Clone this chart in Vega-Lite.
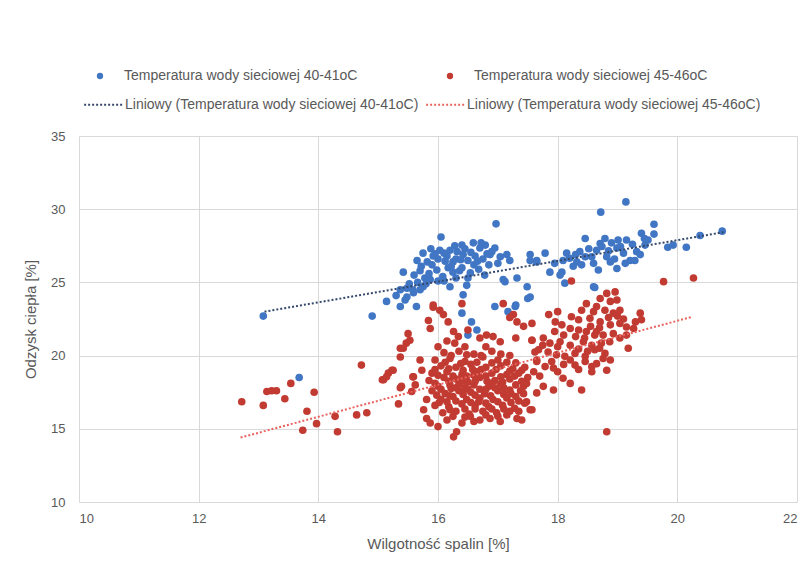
{
  "$schema": "https://vega.github.io/schema/vega-lite/v6.json",
  "autosize": "none",
  "width": 718,
  "height": 366,
  "padding": {"left": 79, "top": 136, "right": 15, "bottom": 63},
  "background": "white",
  "config": {
    "font": "Liberation Sans",
    "view": {"stroke": null},
    "axis": {"gridColor": "#d9d9d9", "gridWidth": 1, "domain": false, "ticks": false, "labelColor": "#595959", "titleColor": "#595959", "labelFontSize": 13, "titleFontSize": 15, "titleFontWeight": "normal", "labelFont": "Liberation Sans", "titleFont": "Liberation Sans"},
    "legend": {"labelColor": "#595959", "labelFontSize": 14, "labelFont": "Liberation Sans", "labelLimit": 500}
  },
  "datasets": {
    "pts": [
      {"g":"40-41","x":13.08,"y":22.7},{"g":"40-41","x":13.68,"y":18.5},{"g":"40-41","x":14.9,"y":22.7},{"g":"40-41","x":15.14,"y":23.7},{"g":"40-41","x":15.37,"y":23.35},{"g":"40-41","x":15.48,"y":24.0},{"g":"40-41","x":15.59,"y":24.3},{"g":"40-41","x":15.7,"y":24.5},{"g":"40-41","x":15.64,"y":23.35},{"g":"40-41","x":15.75,"y":24.7},{"g":"40-41","x":15.87,"y":25.2},{"g":"40-41","x":15.42,"y":25.7},{"g":"40-41","x":15.37,"y":24.5},{"g":"40-41","x":15.48,"y":24.6},{"g":"40-41","x":15.58,"y":24.5},{"g":"40-41","x":15.8,"y":24.9},{"g":"40-41","x":15.52,"y":24.9},{"g":"40-41","x":15.66,"y":25.0},{"g":"40-41","x":15.3,"y":24.1},{"g":"40-41","x":15.45,"y":23.8},
      {"g":"40-41","x":15.75,"y":27.0},{"g":"40-41","x":15.65,"y":26.5},{"g":"40-41","x":15.82,"y":26.4},{"g":"40-41","x":15.92,"y":26.8},{"g":"40-41","x":16.03,"y":27.2},{"g":"40-41","x":16.15,"y":26.8},{"g":"40-41","x":16.25,"y":26.4},{"g":"40-41","x":16.32,"y":27.1},{"g":"40-41","x":16.42,"y":26.9},{"g":"40-41","x":16.5,"y":26.5},{"g":"40-41","x":16.59,"y":27.7},{"g":"40-41","x":16.7,"y":27.35},{"g":"40-41","x":16.79,"y":27.55},{"g":"40-41","x":16.87,"y":26.9},{"g":"40-41","x":16.95,"y":27.35},{"g":"40-41","x":17.04,"y":26.75},{"g":"40-41","x":17.15,"y":26.9},{"g":"40-41","x":17.2,"y":26.5},{"g":"40-41","x":17.54,"y":26.9},{"g":"40-41","x":17.65,"y":26.5},
      {"g":"40-41","x":16.17,"y":26.0},{"g":"40-41","x":16.4,"y":26.0},{"g":"40-41","x":16.54,"y":25.65},{"g":"40-41","x":15.98,"y":25.85},{"g":"40-41","x":16.08,"y":25.4},{"g":"40-41","x":15.78,"y":25.3},{"g":"40-41","x":16.2,"y":24.7},{"g":"40-41","x":16.48,"y":24.8},{"g":"40-41","x":17.12,"y":25.05},{"g":"40-41","x":17.32,"y":25.3},{"g":"40-41","x":17.49,"y":24.7},{"g":"40-41","x":17.54,"y":24.0},{"g":"40-41","x":16.05,"y":28.1},{"g":"40-41","x":16.97,"y":29.0},{"g":"40-41","x":16.42,"y":24.15},{"g":"40-41","x":16.4,"y":22.9},{"g":"40-41","x":16.56,"y":22.3},{"g":"40-41","x":16.65,"y":21.75},{"g":"40-41","x":16.5,"y":21.4},{"g":"40-41","x":16.95,"y":23.35},
      {"g":"40-41","x":17.17,"y":23.0},{"g":"40-41","x":17.3,"y":23.45},{"g":"40-41","x":17.5,"y":23.9},{"g":"40-41","x":17.09,"y":25.2},{"g":"40-41","x":17.29,"y":23.35},{"g":"40-41","x":17.87,"y":25.7},{"g":"40-41","x":18.04,"y":25.5},{"g":"40-41","x":18.12,"y":24.95},{"g":"40-41","x":18.6,"y":24.7},{"g":"40-41","x":15.9,"y":26.2},{"g":"40-41","x":16.0,"y":26.6},{"g":"40-41","x":16.1,"y":27.0},{"g":"40-41","x":16.22,"y":26.1},{"g":"40-41","x":16.3,"y":26.6},{"g":"40-41","x":16.36,"y":25.8},{"g":"40-41","x":16.45,"y":27.3},{"g":"40-41","x":16.6,"y":26.2},{"g":"40-41","x":16.62,"y":26.8},{"g":"40-41","x":16.75,"y":26.6},{"g":"40-41","x":16.85,"y":26.2},
      {"g":"40-41","x":16.9,"y":27.1},{"g":"40-41","x":17.0,"y":26.3},{"g":"40-41","x":16.28,"y":27.5},{"g":"40-41","x":15.88,"y":27.3},{"g":"40-41","x":16.68,"y":25.9},{"g":"40-41","x":16.1,"y":25.1},{"g":"40-41","x":16.3,"y":25.3},
      {"g":"40-41","x":15.95,"y":26.95},{"g":"40-41","x":16.12,"y":26.45},{"g":"40-41","x":16.2,"y":27.2},{"g":"40-41","x":16.38,"y":26.55},{"g":"40-41","x":16.55,"y":27.05},{"g":"40-41","x":16.66,"y":26.45},{"g":"40-41","x":16.82,"y":26.95},{"g":"40-41","x":16.72,"y":27.7},{"g":"40-41","x":16.4,"y":27.55},{"g":"40-41","x":15.7,"y":25.8},{"g":"40-41","x":15.6,"y":25.5},{"g":"40-41","x":15.85,"y":25.6},{"g":"40-41","x":16.0,"y":25.1},{"g":"40-41","x":16.25,"y":25.7},{"g":"40-41","x":16.5,"y":25.3},{"g":"40-41","x":16.78,"y":25.5},{"g":"40-41","x":15.72,"y":26.1},
      {"g":"40-41","x":17.54,"y":26.5},{"g":"40-41","x":17.65,"y":26.4},{"g":"40-41","x":17.79,"y":27.0},{"g":"40-41","x":18.09,"y":26.5},{"g":"40-41","x":18.2,"y":26.65},{"g":"40-41","x":18.32,"y":26.4},{"g":"40-41","x":18.37,"y":27.1},{"g":"40-41","x":18.4,"y":26.2},{"g":"40-41","x":18.46,"y":28.0},{"g":"40-41","x":18.57,"y":26.75},{"g":"40-41","x":18.65,"y":27.2},{"g":"40-41","x":18.74,"y":27.45},{"g":"40-41","x":18.79,"y":28.0},{"g":"40-41","x":18.82,"y":26.75},{"g":"40-41","x":18.9,"y":27.7},{"g":"40-41","x":18.99,"y":27.35},{"g":"40-41","x":19.01,"y":27.9},{"g":"40-41","x":19.1,"y":27.0},{"g":"40-41","x":19.15,"y":27.9},{"g":"40-41","x":19.21,"y":26.5},
      {"g":"40-41","x":19.32,"y":27.1},{"g":"40-41","x":19.4,"y":28.35},{"g":"40-41","x":19.46,"y":27.55},{"g":"40-41","x":19.51,"y":27.9},{"g":"40-41","x":18.68,"y":25.85},{"g":"40-41","x":18.99,"y":25.95},{"g":"40-41","x":18.07,"y":25.7},{"g":"40-41","x":18.62,"y":24.65},{"g":"40-41","x":18.26,"y":26.1},{"g":"40-41","x":18.88,"y":26.4},{"g":"40-41","x":19.13,"y":26.3},{"g":"40-41","x":19.29,"y":26.5},{"g":"40-41","x":18.46,"y":26.75},{"g":"40-41","x":18.71,"y":27.65},{"g":"40-41","x":19.14,"y":30.5},{"g":"40-41","x":18.72,"y":29.8},{"g":"40-41","x":19.61,"y":28.97},{"g":"40-41","x":19.61,"y":28.3},{"g":"40-41","x":20.38,"y":28.2},{"g":"40-41","x":20.75,"y":28.5},
      {"g":"40-41","x":20.15,"y":27.4},{"g":"40-41","x":19.84,"y":27.4},{"g":"40-41","x":19.93,"y":27.55},
      {"g":"40-41","x":18.3,"y":26.9},{"g":"40-41","x":18.52,"y":27.3},{"g":"40-41","x":18.6,"y":26.3},{"g":"40-41","x":18.85,"y":27.15},{"g":"40-41","x":18.95,"y":26.6},{"g":"40-41","x":19.05,"y":27.45},{"g":"40-41","x":19.25,"y":27.6},{"g":"40-41","x":19.38,"y":26.9},{"g":"40-41","x":19.45,"y":28.0},{"g":"40-41","x":18.15,"y":27.0},{"g":"40-41","x":17.95,"y":26.3},
      {"g":"45-46","x":12.72,"y":16.85},{"g":"45-46","x":13.08,"y":16.6},{"g":"45-46","x":13.14,"y":17.55},{"g":"45-46","x":13.22,"y":17.6},{"g":"45-46","x":13.3,"y":17.6},{"g":"45-46","x":13.44,"y":17.05},{"g":"45-46","x":13.54,"y":18.1},{"g":"45-46","x":13.81,"y":16.2},{"g":"45-46","x":13.93,"y":17.5},{"g":"45-46","x":13.74,"y":14.9},{"g":"45-46","x":13.97,"y":15.35},{"g":"45-46","x":14.28,"y":15.85},{"g":"45-46","x":14.32,"y":14.8},{"g":"45-46","x":14.64,"y":15.95},{"g":"45-46","x":14.81,"y":16.1},{"g":"45-46","x":14.72,"y":19.35},{"g":"45-46","x":15.07,"y":18.35},{"g":"45-46","x":15.17,"y":18.8},{"g":"45-46","x":15.25,"y":19.0},{"g":"45-46","x":15.37,"y":17.8},
      {"g":"45-46","x":15.34,"y":16.7},{"g":"45-46","x":15.37,"y":20.5},{"g":"45-46","x":15.5,"y":21.5},{"g":"45-46","x":15.53,"y":21.05},{"g":"45-46","x":15.58,"y":18.55},{"g":"45-46","x":15.56,"y":17.55},{"g":"45-46","x":15.39,"y":17.9},{"g":"45-46","x":15.92,"y":23.45},{"g":"45-46","x":16.03,"y":23.1},{"g":"45-46","x":16.09,"y":22.8},{"g":"45-46","x":16.17,"y":22.3},{"g":"45-46","x":15.84,"y":22.4},{"g":"45-46","x":15.87,"y":21.85},{"g":"45-46","x":16.4,"y":23.55},{"g":"45-46","x":17.09,"y":23.55},{"g":"45-46","x":17.26,"y":22.8},{"g":"45-46","x":17.32,"y":22.3},{"g":"45-46","x":17.43,"y":22.0},{"g":"45-46","x":17.57,"y":22.2},{"g":"45-46","x":15.47,"y":20.85},
      {"g":"45-46","x":15.42,"y":20.5},{"g":"45-46","x":15.37,"y":19.9},{"g":"45-46","x":15.23,"y":19.0},{"g":"45-46","x":15.14,"y":18.55},{"g":"45-46","x":15.09,"y":18.35},{"g":"45-46","x":15.7,"y":19.7},{"g":"45-46","x":15.73,"y":19.0},{"g":"45-46","x":15.59,"y":18.55},{"g":"45-46","x":15.62,"y":18.0},{"g":"45-46","x":16.26,"y":21.65},{"g":"45-46","x":16.34,"y":21.3},{"g":"45-46","x":16.28,"y":20.85},{"g":"45-46","x":16.7,"y":21.2},{"g":"45-46","x":16.81,"y":21.4},{"g":"45-46","x":16.92,"y":21.3},{"g":"45-46","x":17.04,"y":20.95},{"g":"45-46","x":16.5,"y":21.75},{"g":"45-46","x":17.57,"y":21.05},{"g":"45-46","x":17.62,"y":20.25},{"g":"45-46","x":17.65,"y":19.6},
      {"g":"45-46","x":15.81,"y":17.0},{"g":"45-46","x":15.76,"y":16.3},{"g":"45-46","x":15.81,"y":15.7},{"g":"45-46","x":15.87,"y":15.4},{"g":"45-46","x":16.0,"y":15.15},{"g":"45-46","x":16.31,"y":14.8},{"g":"45-46","x":16.26,"y":14.45},{"g":"45-46","x":16.54,"y":15.85},{"g":"45-46","x":16.7,"y":15.6},{"g":"45-46","x":16.87,"y":15.7},{"g":"45-46","x":17.04,"y":15.5},{"g":"45-46","x":17.15,"y":15.95},{"g":"45-46","x":17.32,"y":15.7},{"g":"45-46","x":17.48,"y":16.85},{"g":"45-46","x":17.54,"y":16.3},{"g":"45-46","x":17.43,"y":17.9},{"g":"45-46","x":17.65,"y":17.45},
      {"g":"45-46","x":16.1,"y":20.2},{"g":"45-46","x":16.35,"y":20.3},{"g":"45-46","x":16.6,"y":20.1},{"g":"45-46","x":16.9,"y":20.3},{"g":"45-46","x":17.2,"y":20.0},{"g":"45-46","x":15.95,"y":19.7},{"g":"45-46","x":16.2,"y":19.8},{"g":"45-46","x":16.45,"y":19.6},{"g":"45-46","x":16.75,"y":19.9},{"g":"45-46","x":17.0,"y":19.7},{"g":"45-46","x":17.3,"y":19.5},{"g":"45-46","x":16.05,"y":19.3},{"g":"45-46","x":16.3,"y":19.2},{"g":"45-46","x":16.55,"y":19.4},{"g":"45-46","x":16.8,"y":19.2},{"g":"45-46","x":17.05,"y":19.3},{"g":"45-46","x":17.25,"y":19.1},{"g":"45-46","x":17.45,"y":19.2},{"g":"45-46","x":15.9,"y":18.8},{"g":"45-46","x":16.15,"y":18.9},
      {"g":"45-46","x":16.4,"y":18.7},{"g":"45-46","x":16.65,"y":18.9},{"g":"45-46","x":16.9,"y":18.8},{"g":"45-46","x":17.15,"y":18.7},{"g":"45-46","x":17.35,"y":18.8},{"g":"45-46","x":15.85,"y":18.3},{"g":"45-46","x":16.1,"y":18.5},{"g":"45-46","x":16.3,"y":18.4},{"g":"45-46","x":16.5,"y":18.2},{"g":"45-46","x":16.7,"y":18.5},{"g":"45-46","x":16.95,"y":18.3},{"g":"45-46","x":17.2,"y":18.4},{"g":"45-46","x":17.5,"y":18.5},{"g":"45-46","x":16.0,"y":17.9},{"g":"45-46","x":16.2,"y":18.0},{"g":"45-46","x":16.45,"y":17.8},{"g":"45-46","x":16.6,"y":18.0},{"g":"45-46","x":16.85,"y":17.9},{"g":"45-46","x":17.1,"y":17.8},{"g":"45-46","x":17.3,"y":18.0},
      {"g":"45-46","x":15.9,"y":17.6},{"g":"45-46","x":16.12,"y":17.4},{"g":"45-46","x":16.35,"y":17.6},{"g":"45-46","x":16.55,"y":17.5},{"g":"45-46","x":16.78,"y":17.4},{"g":"45-46","x":17.0,"y":17.6},{"g":"45-46","x":17.22,"y":17.4},{"g":"45-46","x":16.05,"y":17.0},{"g":"45-46","x":16.25,"y":17.2},{"g":"45-46","x":16.48,"y":17.0},{"g":"45-46","x":16.7,"y":17.1},{"g":"45-46","x":16.92,"y":17.0},{"g":"45-46","x":17.15,"y":17.1},{"g":"45-46","x":17.35,"y":16.9},{"g":"45-46","x":15.95,"y":16.6},{"g":"45-46","x":16.18,"y":16.5},{"g":"45-46","x":16.4,"y":16.7},{"g":"45-46","x":16.62,"y":16.6},{"g":"45-46","x":16.85,"y":16.5},{"g":"45-46","x":17.08,"y":16.6},
      {"g":"45-46","x":17.28,"y":16.4},{"g":"45-46","x":16.08,"y":16.1},{"g":"45-46","x":16.3,"y":16.2},{"g":"45-46","x":16.52,"y":16.0},{"g":"45-46","x":16.75,"y":16.2},{"g":"45-46","x":16.98,"y":16.1},{"g":"45-46","x":17.2,"y":16.2},{"g":"45-46","x":16.15,"y":15.6},{"g":"45-46","x":16.4,"y":15.4},{"g":"45-46","x":16.6,"y":15.5},{"g":"45-46","x":16.22,"y":17.75},{"g":"45-46","x":16.48,"y":18.6},{"g":"45-46","x":16.68,"y":16.85},{"g":"45-46","x":16.88,"y":18.1},{"g":"45-46","x":16.58,"y":19.05},{"g":"45-46","x":16.35,"y":18.05},{"g":"45-46","x":16.8,"y":17.7},{"g":"45-46","x":17.05,"y":18.05},{"g":"45-46","x":16.15,"y":16.85},{"g":"45-46","x":16.45,"y":16.35},
      {"g":"45-46","x":16.22,"y":20.0},{"g":"45-46","x":16.48,"y":20.05},{"g":"45-46","x":16.72,"y":20.0},{"g":"45-46","x":17.05,"y":20.1},{"g":"45-46","x":16.12,"y":19.55},{"g":"45-46","x":16.38,"y":19.45},{"g":"45-46","x":16.65,"y":19.55},{"g":"45-46","x":16.9,"y":19.5},{"g":"45-46","x":17.15,"y":19.55},{"g":"45-46","x":15.95,"y":19.05},{"g":"45-46","x":16.18,"y":19.1},{"g":"45-46","x":16.42,"y":19.0},{"g":"45-46","x":16.72,"y":19.05},{"g":"45-46","x":16.97,"y":19.05},{"g":"45-46","x":17.2,"y":18.95},{"g":"45-46","x":17.4,"y":19.0},{"g":"45-46","x":16.0,"y":18.65},{"g":"45-46","x":16.25,"y":18.6},{"g":"45-46","x":16.6,"y":18.65},{"g":"45-46","x":16.8,"y":18.6},
      {"g":"45-46","x":17.05,"y":18.55},{"g":"45-46","x":17.28,"y":18.6},{"g":"45-46","x":15.95,"y":18.1},{"g":"45-46","x":16.18,"y":18.25},{"g":"45-46","x":16.4,"y":18.25},{"g":"45-46","x":16.62,"y":18.25},{"g":"45-46","x":16.82,"y":18.25},{"g":"45-46","x":17.08,"y":18.2},{"g":"45-46","x":17.4,"y":18.25},{"g":"45-46","x":16.05,"y":17.7},{"g":"45-46","x":16.3,"y":17.8},{"g":"45-46","x":16.5,"y":17.7},{"g":"45-46","x":16.7,"y":17.7},{"g":"45-46","x":16.95,"y":17.8},{"g":"45-46","x":17.2,"y":17.65},{"g":"45-46","x":17.38,"y":17.6},{"g":"45-46","x":15.98,"y":17.3},{"g":"45-46","x":16.2,"y":17.25},{"g":"45-46","x":16.42,"y":17.35},{"g":"45-46","x":16.62,"y":17.3},
      {"g":"45-46","x":16.88,"y":17.25},{"g":"45-46","x":17.1,"y":17.35},{"g":"45-46","x":17.3,"y":17.2},{"g":"45-46","x":16.02,"y":16.8},{"g":"45-46","x":16.3,"y":16.9},{"g":"45-46","x":16.55,"y":16.8},{"g":"45-46","x":16.8,"y":16.75},{"g":"45-46","x":17.0,"y":16.85},{"g":"45-46","x":17.22,"y":16.8},{"g":"45-46","x":16.2,"y":16.3},{"g":"45-46","x":16.62,"y":16.35},{"g":"45-46","x":16.9,"y":16.35},{"g":"45-46","x":17.1,"y":16.35},{"g":"45-46","x":17.35,"y":16.2},{"g":"45-46","x":16.25,"y":15.85},{"g":"45-46","x":16.45,"y":15.8},{"g":"45-46","x":16.8,"y":15.95},{"g":"45-46","x":17.0,"y":15.85},
      {"g":"45-46","x":16.0,"y":20.6},{"g":"45-46","x":16.15,"y":21.0},{"g":"45-46","x":16.45,"y":20.6},{"g":"45-46","x":16.8,"y":20.6},{"g":"45-46","x":17.3,"y":21.2},{"g":"45-46","x":17.2,"y":22.6},{"g":"45-46","x":15.92,"y":23.3},
      {"g":"45-46","x":18.23,"y":25.1},{"g":"45-46","x":19.77,"y":25.05},{"g":"45-46","x":20.27,"y":25.3},{"g":"45-46","x":18.82,"y":24.25},{"g":"45-46","x":18.96,"y":24.35},{"g":"45-46","x":18.71,"y":23.9},{"g":"45-46","x":18.88,"y":23.7},{"g":"45-46","x":18.99,"y":23.8},{"g":"45-46","x":18.48,"y":23.55},{"g":"45-46","x":18.65,"y":23.35},{"g":"45-46","x":18.4,"y":23.1},{"g":"45-46","x":18.79,"y":23.1},{"g":"45-46","x":18.93,"y":22.9},{"g":"45-46","x":19.04,"y":23.1},{"g":"45-46","x":19.38,"y":22.9},{"g":"45-46","x":19.4,"y":22.45},{"g":"45-46","x":18.23,"y":22.65},{"g":"45-46","x":18.35,"y":22.45},{"g":"45-46","x":18.54,"y":22.55},{"g":"45-46","x":18.71,"y":22.3},
      {"g":"45-46","x":18.88,"y":22.1},{"g":"45-46","x":19.04,"y":22.2},{"g":"45-46","x":19.15,"y":21.95},{"g":"45-46","x":19.27,"y":21.85},{"g":"45-46","x":17.96,"y":22.3},{"g":"45-46","x":18.07,"y":22.1},{"g":"45-46","x":18.21,"y":21.85},{"g":"45-46","x":18.35,"y":21.75},{"g":"45-46","x":18.48,"y":21.65},{"g":"45-46","x":18.62,"y":21.4},{"g":"45-46","x":18.76,"y":21.4},{"g":"45-46","x":18.93,"y":21.5},{"g":"45-46","x":19.04,"y":21.2},{"g":"45-46","x":19.15,"y":21.4},{"g":"45-46","x":17.57,"y":21.05},{"g":"45-46","x":17.76,"y":21.2},{"g":"45-46","x":17.87,"y":20.85},{"g":"45-46","x":18.04,"y":20.95},{"g":"45-46","x":18.21,"y":20.7},{"g":"45-46","x":18.43,"y":20.95},
      {"g":"45-46","x":18.57,"y":20.7},{"g":"45-46","x":18.73,"y":20.85},{"g":"45-46","x":18.87,"y":20.95},{"g":"45-46","x":19.18,"y":20.5},{"g":"45-46","x":17.68,"y":20.4},{"g":"45-46","x":17.84,"y":20.25},{"g":"45-46","x":17.98,"y":20.05},{"g":"45-46","x":18.12,"y":19.95},{"g":"45-46","x":18.29,"y":20.15},{"g":"45-46","x":18.46,"y":19.95},{"g":"45-46","x":18.62,"y":20.4},{"g":"45-46","x":18.79,"y":20.15},{"g":"45-46","x":18.88,"y":19.7},{"g":"45-46","x":17.65,"y":19.7},{"g":"45-46","x":17.79,"y":19.25},{"g":"45-46","x":17.93,"y":19.15},{"g":"45-46","x":18.21,"y":19.7},{"g":"45-46","x":18.29,"y":19.35},{"g":"45-46","x":18.46,"y":19.6},{"g":"45-46","x":18.57,"y":19.25},
      {"g":"45-46","x":18.76,"y":19.8},{"g":"45-46","x":18.57,"y":18.9},{"g":"45-46","x":18.82,"y":19.0},{"g":"45-46","x":18.09,"y":18.45},{"g":"45-46","x":18.21,"y":18.1},{"g":"45-46","x":18.4,"y":17.65},{"g":"45-46","x":17.76,"y":17.9},{"g":"45-46","x":17.93,"y":17.65},{"g":"45-46","x":17.48,"y":18.1},{"g":"45-46","x":17.43,"y":17.4},{"g":"45-46","x":17.45,"y":16.75},{"g":"45-46","x":17.57,"y":16.3},{"g":"45-46","x":17.4,"y":15.6},{"g":"45-46","x":18.82,"y":14.8},{"g":"45-46","x":17.85,"y":22.8},{"g":"45-46","x":18.0,"y":23.0},
      {"g":"45-46","x":18.3,"y":21.3},{"g":"45-46","x":18.55,"y":22.0},{"g":"45-46","x":18.7,"y":21.9},{"g":"45-46","x":18.85,"y":22.6},{"g":"45-46","x":19.0,"y":22.7},{"g":"45-46","x":18.6,"y":23.0},{"g":"45-46","x":18.1,"y":21.4},{"g":"45-46","x":17.95,"y":21.65},{"g":"45-46","x":18.45,"y":21.2},{"g":"45-46","x":18.65,"y":21.65},{"g":"45-46","x":19.1,"y":22.5},{"g":"45-46","x":19.3,"y":22.3},{"g":"45-46","x":18.35,"y":20.45},{"g":"45-46","x":18.0,"y":20.6},{"g":"45-46","x":17.75,"y":20.7},{"g":"45-46","x":18.5,"y":20.3},{"g":"45-46","x":18.7,"y":20.5},{"g":"45-46","x":17.9,"y":19.6},{"g":"45-46","x":18.1,"y":19.4},{"g":"45-46","x":18.35,"y":19.05},
      {"g":"45-46","x":18.65,"y":19.45},{"g":"45-46","x":18.0,"y":18.9},{"g":"45-46","x":17.7,"y":18.6},{"g":"45-46","x":17.6,"y":18.9}
    ],
    "trend": [
      {"t":"L40-41","x":13.1,"y":23.0},{"t":"L40-41","x":20.8,"y":28.45},
      {"t":"L45-46","x":12.7,"y":14.4},{"t":"L45-46","x":20.25,"y":22.65}
    ]
  },
  "layer": [
    {
      "data": {"name": "pts"},
      "mark": {"type": "circle", "size": 58, "opacity": 1},
      "encoding": {
        "x": {"field": "x", "type": "quantitative", "scale": {"domain": [10, 22], "nice": false, "zero": false},
              "axis": {"title": "Wilgotność spalin [%]", "values": [10,12,14,16,18,20,22], "format": "d", "labelPadding": 10, "titlePadding": 11}},
        "y": {"field": "y", "type": "quantitative", "scale": {"domain": [10, 35], "nice": false, "zero": false},
              "axis": {"title": "Odzysk ciepła [%]", "values": [10,15,20,25,30,35], "format": "d", "labelPadding": 14, "titlePadding": 12}},
        "fill": {"field": "g", "type": "nominal", "scale": {"domain": ["40-41","45-46"], "range": ["#4176c4", "#c23b32"]},
                 "legend": {"orient": "none", "legendX": 14, "legendY": -67, "direction": "horizontal", "title": null,
                            "symbolType": "circle", "symbolSize": 40, "labelOffset": 17, "columnPadding": 85,
                            "labelExpr": "'Temperatura wody sieciowej ' + datum.label + 'oC'"}}
      }
    },
    {
      "data": {"name": "trend"},
      "mark": {"type": "line", "strokeDash": [2, 2], "strokeWidth": 2},
      "encoding": {
        "x": {"field": "x", "type": "quantitative"},
        "y": {"field": "y", "type": "quantitative"},
        "stroke": {"field": "t", "type": "nominal", "scale": {"domain": ["L40-41","L45-46"], "range": ["#34496b", "#e8625e"]},
                   "legend": {"orient": "none", "legendX": 4, "legendY": -52, "direction": "horizontal", "title": null,
                              "symbolType": "stroke", "symbolSize": 1500, "symbolDash": [2, 2], "symbolStrokeWidth": 2, "labelOffset": 1, "columnPadding": 3,
                              "labelExpr": "'Liniowy (Temperatura wody sieciowej ' + slice(datum.label, 1) + 'oC)'"}}
      }
    }
  ]
}
